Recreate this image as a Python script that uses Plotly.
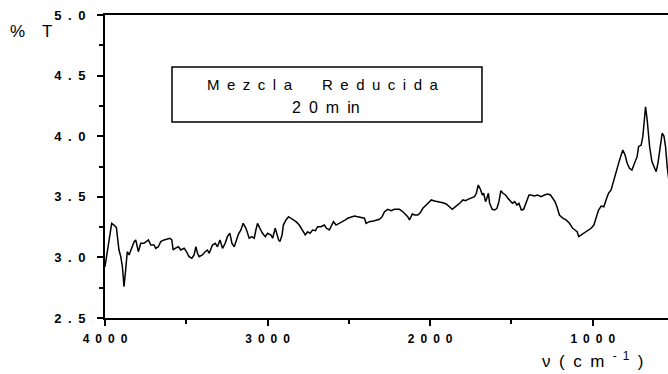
import plotly.graph_objects as go

# Wavenumber (cm^-1) and %T
wavenumber = [
    4000, 3959, 3945, 3930, 3914, 3903, 3893, 3883, 3873, 3863, 3852, 3842, 3832, 3821, 3811,
    3795, 3780, 3760, 3733, 3718, 3698, 3688, 3672, 3657, 3637, 3616, 3601, 3589, 3581, 3569,
    3548, 3534, 3513, 3499, 3483, 3466, 3452, 3441, 3431, 3421, 3401, 3384, 3370, 3359, 3339,
    3322, 3308, 3293, 3277, 3261, 3247, 3232, 3219, 3205, 3191, 3179, 3164, 3150, 3133, 3117,
    3113, 3096, 3082, 3072, 3062, 3047, 3031, 3014, 3000, 2979, 2969, 2953, 2945, 2932, 2924,
    2911, 2903, 2887, 2871, 2846, 2825, 2805, 2784, 2768, 2754, 2739, 2723, 2706, 2692, 2671,
    2651, 2637, 2620, 2603, 2595, 2579, 2558, 2538, 2521, 2507, 2486, 2466, 2446, 2418, 2404,
    2394, 2374, 2343, 2312, 2295, 2281, 2261, 2240, 2220, 2189, 2168, 2152, 2138, 2127, 2110,
    2096, 2076, 2061, 2045, 2024, 2004, 1993, 1973, 1947, 1922, 1901, 1881, 1864, 1850, 1829,
    1815, 1799, 1782, 1768, 1753, 1741, 1727, 1716, 1704, 1691, 1679, 1671, 1659, 1651, 1642,
    1634, 1618, 1603, 1589, 1577, 1565, 1552, 1536, 1522, 1507, 1494, 1480, 1466, 1454, 1439,
    1425, 1408, 1392, 1380, 1359, 1338, 1318, 1297, 1277, 1260, 1246, 1232, 1220, 1205, 1184,
    1164, 1143, 1123, 1109, 1096, 1086, 1072, 1051, 1030, 1010, 993, 979, 964, 948, 932,
    918, 903, 887, 870, 856, 841, 825, 815, 801, 788, 774, 759, 743, 727, 718,
    702, 692, 685, 675, 665, 650, 636, 620, 610, 599, 583, 573, 562, 552, 542, 530,
]
transmittance = [
    2.923, 3.281, 3.267, 3.248, 3.061, 3.006, 2.923, 2.758, 2.896, 3.047, 3.020, 3.061, 3.102, 3.130, 3.144,
    3.047, 3.116, 3.116, 3.144, 3.102, 3.102, 3.075, 3.088, 3.130, 3.144, 3.149, 3.158, 3.144, 3.061, 3.075,
    3.088, 3.061, 3.075, 3.047, 3.006, 2.993, 3.020, 3.088, 3.034, 3.006, 3.020, 3.047, 3.061, 3.034, 3.102,
    3.116, 3.088, 3.144, 3.075, 3.116, 3.171, 3.199, 3.116, 3.088, 3.144, 3.193, 3.226, 3.281, 3.240, 3.171,
    3.158, 3.171, 3.158, 3.226, 3.281, 3.240, 3.199, 3.171, 3.199, 3.185, 3.158, 3.240, 3.199, 3.144, 3.130,
    3.185, 3.267, 3.309, 3.336, 3.314, 3.295, 3.267, 3.226, 3.185, 3.212, 3.199, 3.226, 3.220, 3.253, 3.253,
    3.267, 3.240, 3.226, 3.267, 3.295, 3.267, 3.281, 3.295, 3.309, 3.323, 3.336, 3.342, 3.336, 3.323, 3.323,
    3.281, 3.295, 3.303, 3.314, 3.336, 3.377, 3.397, 3.385, 3.397, 3.397, 3.377, 3.358, 3.336, 3.309, 3.358,
    3.350, 3.350, 3.369, 3.405, 3.432, 3.460, 3.474, 3.465, 3.460, 3.451, 3.441, 3.418, 3.397, 3.413, 3.432,
    3.451, 3.474, 3.468, 3.479, 3.488, 3.496, 3.501, 3.529, 3.597, 3.562, 3.515, 3.529, 3.460, 3.488, 3.529,
    3.446, 3.397, 3.391, 3.405, 3.460, 3.550, 3.529, 3.515, 3.488, 3.460, 3.446, 3.460, 3.432, 3.446, 3.391,
    3.397, 3.460, 3.515, 3.515, 3.507, 3.515, 3.501, 3.515, 3.523, 3.515, 3.488, 3.460, 3.418, 3.350, 3.323,
    3.309, 3.281, 3.240, 3.226, 3.212, 3.171, 3.185, 3.204, 3.220, 3.240, 3.267, 3.336, 3.391, 3.424, 3.418,
    3.474, 3.529, 3.556, 3.639, 3.721, 3.776, 3.845, 3.886, 3.845, 3.776, 3.735, 3.721, 3.776, 3.831, 3.913,
    3.927, 3.996, 4.134, 4.243, 4.134, 3.913, 3.790, 3.735, 3.707, 3.776, 3.927, 4.024, 4.002, 3.913, 3.748, 3.62,
]

x_tick_values = [4000, 3000, 2000, 1000]
x_tick_labels = ["4\u20020\u20020\u20020", "3\u20020\u20020\u20020", "2\u20020\u20020\u20020", "1\u20020\u20020\u20020"]
y_tick_values = [2.5, 3.0, 3.5, 4.0, 4.5, 5.0]
y_tick_labels = ["2\u2002.\u20025", "3\u2002.\u20020", "3\u2002.\u20025", "4\u2002.\u20020", "4\u2002.\u20025", "5\u2002.\u20020"]

legend_line1 = "M\u2002e\u2002z\u2002c\u2002l\u2002a\u2002\u2002\u2002\u2002R\u2002e\u2002d\u2002u\u2002c\u2002i\u2002d\u2002a"
legend_line2 = "2\u20020\u2002m\u2002in"
y_title = "%\u2002\u2002T"
x_title = "\u03bd\u2002(\u2002c\u2002m\u2002<sup>-\u20021</sup>\u2002)"

FONT = "Liberation Sans, Arial, sans-serif"
INK = "#000000"

fig = go.Figure()
fig.add_trace(go.Scatter(
    x=wavenumber, y=transmittance, mode="lines",
    line=dict(color=INK, width=1.5),
    showlegend=False, hoverinfo="skip",
))

fig.update_layout(
    width=668, height=374,
    margin=dict(l=105, r=0, t=15, b=56),
    paper_bgcolor="white", plot_bgcolor="white",
    font=dict(family=FONT, color=INK),
    xaxis=dict(
        range=[4000, 537], showgrid=False, zeroline=False,
        showline=True, linecolor=INK, linewidth=2, mirror=True,
        tickmode="array", tickvals=x_tick_values, ticktext=x_tick_labels,
        ticks="outside", ticklen=6, tickwidth=2, tickcolor=INK,
        tickfont=dict(size=12, family=FONT, color=INK, weight="bold"),
        ticklabelstandoff=3,
        minor=dict(dtick=500, tick0=0, ticks="outside", ticklen=4, tickwidth=1.5, tickcolor=INK),
    ),
    yaxis=dict(
        range=[2.5, 5.0], showgrid=False, zeroline=False,
        showline=True, linecolor=INK, linewidth=2,
        tickmode="array", tickvals=y_tick_values, ticktext=y_tick_labels,
        ticks="outside", ticklen=6, tickwidth=2, tickcolor=INK,
        tickfont=dict(size=13, family=FONT, color=INK, weight="bold"),
        ticklabelstandoff=9,
        minor=dict(dtick=0.25, tick0=0, ticks="outside", ticklen=4, tickwidth=1.5, tickcolor=INK),
    ),
    shapes=[dict(
        type="rect", xref="paper", yref="paper",
        x0=0.119, x1=0.6696, y0=0.647, y1=0.828,
        line=dict(color=INK, width=1.5), fillcolor="rgba(0,0,0,0)",
    )],
    annotations=[
        dict(text=legend_line1, xref="paper", yref="paper", x=0.387, y=0.771,
             showarrow=False, xanchor="center", yanchor="middle",
             font=dict(size=15, family=FONT, color=INK)),
        dict(text=legend_line2, xref="paper", yref="paper", x=0.3925, y=0.696,
             showarrow=False, xanchor="center", yanchor="middle",
             font=dict(size=16, family=FONT, color=INK)),
        dict(text=y_title, xref="paper", yref="paper", x=-0.131, y=0.947,
             showarrow=False, xanchor="center", yanchor="middle",
             font=dict(size=17, family=FONT, color=INK)),
        dict(text=x_title, xref="paper", yref="paper", x=0.867, y=-0.139,
             showarrow=False, xanchor="center", yanchor="middle",
             font=dict(size=17, family=FONT, color=INK)),
    ],
)

fig.write_html("out.html")
